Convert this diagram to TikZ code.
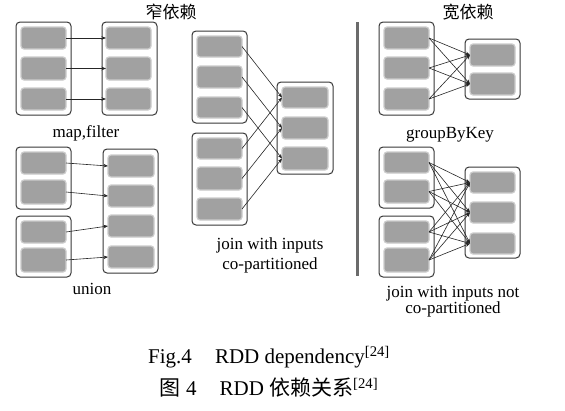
\documentclass[tikz,border=0pt]{standalone}
\usepackage{fontspec}
\setmainfont{Liberation Serif}
\newfontfamily\cjk{Noto Sans CJK SC}
\usetikzlibrary{arrows.meta}
\newcommand\drbox[6]{\node[#1, inner sep=0pt, outer sep=0pt, minimum width={(#5-#3)*1pt}, minimum height={(#6-#4)*1pt}] (#2) at ({(#3+#5)/2},{(#4+#6)/2}) {};}
\begin{document}
\begin{tikzpicture}[x=1pt,y=-1pt,
 cont/.style={draw=black!78, line width=1pt, rounded corners=4pt, fill=white},
 part/.style={fill=black!37, draw=black!20, line width=1.2pt, rounded corners=3pt},
 dep/.style={draw=black!85, line width=0.6pt, -{Stealth[length=4.5pt,width=3.5pt]}},
 lbl/.style={font=\fontsize{17}{20}\selectfont, inner sep=0pt, align=center},
 sep/.style={draw=black!58, line width=3pt}]
\useasboundingbox (0,0) rectangle (565,410);
\fill[white] (0,0) rectangle (565,410);

% ---- map, filter
\drbox{cont}{mfL}{16}{22}{71}{115}
\drbox{cont}{mfR}{102}{22}{157}{115}
\drbox{part}{mfL1}{21}{27}{66}{49}
\drbox{part}{mfL2}{21}{57}{66}{80}
\drbox{part}{mfL3}{21}{88}{66}{110}
\drbox{part}{mfR1}{106}{27}{151}{49}
\drbox{part}{mfR2}{106}{57}{151}{80}
\drbox{part}{mfR3}{106}{88}{151}{110}
\foreach \i in {1,2,3} \draw[dep] (mfL\i.east) -- (mfR\i.west);

% ---- union
\drbox{cont}{unA}{16}{147}{71}{209}
\drbox{cont}{unB}{16}{216}{71}{277}
\drbox{cont}{unR}{103}{149}{158}{273}
\drbox{part}{unA1}{21}{152}{66}{174}
\drbox{part}{unA2}{21}{180}{66}{204}
\drbox{part}{unB1}{21}{221}{66}{243}
\drbox{part}{unB2}{21}{248}{66}{272}
\drbox{part}{unR1}{108}{155}{154}{177}
\drbox{part}{unR2}{108}{185}{154}{207}
\drbox{part}{unR3}{108}{215}{154}{237}
\drbox{part}{unR4}{108}{246}{154}{268}
\draw[dep] (unA1.east) -- (unR1.west);
\draw[dep] (unA2.east) -- (unR2.west);
\draw[dep] (unB1.east) -- (unR3.west);
\draw[dep] (unB2.east) -- (unR4.west);

% ---- join co-partitioned
\drbox{cont}{jA}{192}{31}{247}{123}
\drbox{cont}{jB}{192}{133}{247}{225}
\drbox{cont}{jR}{277}{82}{333}{174}
\drbox{part}{jA1}{197}{36}{242}{57}
\drbox{part}{jA2}{197}{66}{242}{88}
\drbox{part}{jA3}{197}{97}{242}{118}
\drbox{part}{jB1}{197}{138}{242}{159}
\drbox{part}{jB2}{197}{167}{242}{190}
\drbox{part}{jB3}{197}{198}{242}{220}
\drbox{part}{jR1}{282}{87}{328}{108}
\drbox{part}{jR2}{282}{117}{328}{139}
\drbox{part}{jR3}{282}{147}{328}{170}
\foreach \i in {1,2,3} {\draw[dep] (jA\i.east) -- (jR\i.west); \draw[dep] (jB\i.east) -- (jR\i.west);}

% ---- separator
\coordinate (sepT) at (357,22);
\coordinate (sepB) at (357,276);
\draw[sep] (sepT) -- (sepB);

% ---- groupByKey
\drbox{cont}{gL}{379}{22}{434}{115}
\drbox{cont}{gR}{465}{39}{520}{99}
\drbox{part}{gL1}{384}{27}{429}{49}
\drbox{part}{gL2}{384}{57}{429}{79}
\drbox{part}{gL3}{384}{88}{429}{110}
\drbox{part}{gR1}{470}{44}{515}{66}
\drbox{part}{gR2}{470}{73}{515}{95}
\foreach \i in {1,2,3} \foreach \j in {1,2} \draw[dep] (gL\i.east) -- (gR\j.west);

% ---- join not co-partitioned
\drbox{cont}{nA}{379}{147}{434}{208}
\drbox{cont}{nB}{379}{216}{434}{277}
\drbox{cont}{nR}{465}{167}{520}{258}
\drbox{part}{nL1}{384}{152}{429}{173}
\drbox{part}{nL2}{384}{180}{429}{203}
\drbox{part}{nL3}{384}{221}{429}{243}
\drbox{part}{nL4}{384}{248}{429}{272}
\drbox{part}{nR1}{470}{172}{515}{193}
\drbox{part}{nR2}{470}{202}{515}{223}
\drbox{part}{nR3}{470}{233}{515}{254}
\foreach \i in {1,2,3,4} \foreach \j in {1,2,3} \draw[dep] (nL\i.east) -- (nR\j.west);

% ---- labels
\node[lbl] (tN) at (171,12) {\cjk 窄依赖};
\node[lbl] (tW) at (468,12) {\cjk 宽依赖};
\node[lbl] (lMF) at (86,133) {map,filter};
\node[lbl] (lUN) at (92,289) {union};
\node[lbl] (lJC) at (270,255) {join with inputs\\co-partitioned};
\node[lbl] (lGB) at (450,135) {groupByKey};
\node[lbl, font=\fontsize{17}{16}\selectfont] (lJN) at (453,301) {join with inputs not\\co-partitioned};

% ---- caption
\node[inner sep=0pt, align=center, font=\fontsize{21}{32}\selectfont] (cap) at (269,372)
 {Fig.4\hspace{1.1em}RDD dependency\textsuperscript{[24]}\\{\cjk 图} 4\hspace{1.1em}RDD {\cjk 依赖关系}\textsuperscript{[24]}};
\end{tikzpicture}
\end{document}
